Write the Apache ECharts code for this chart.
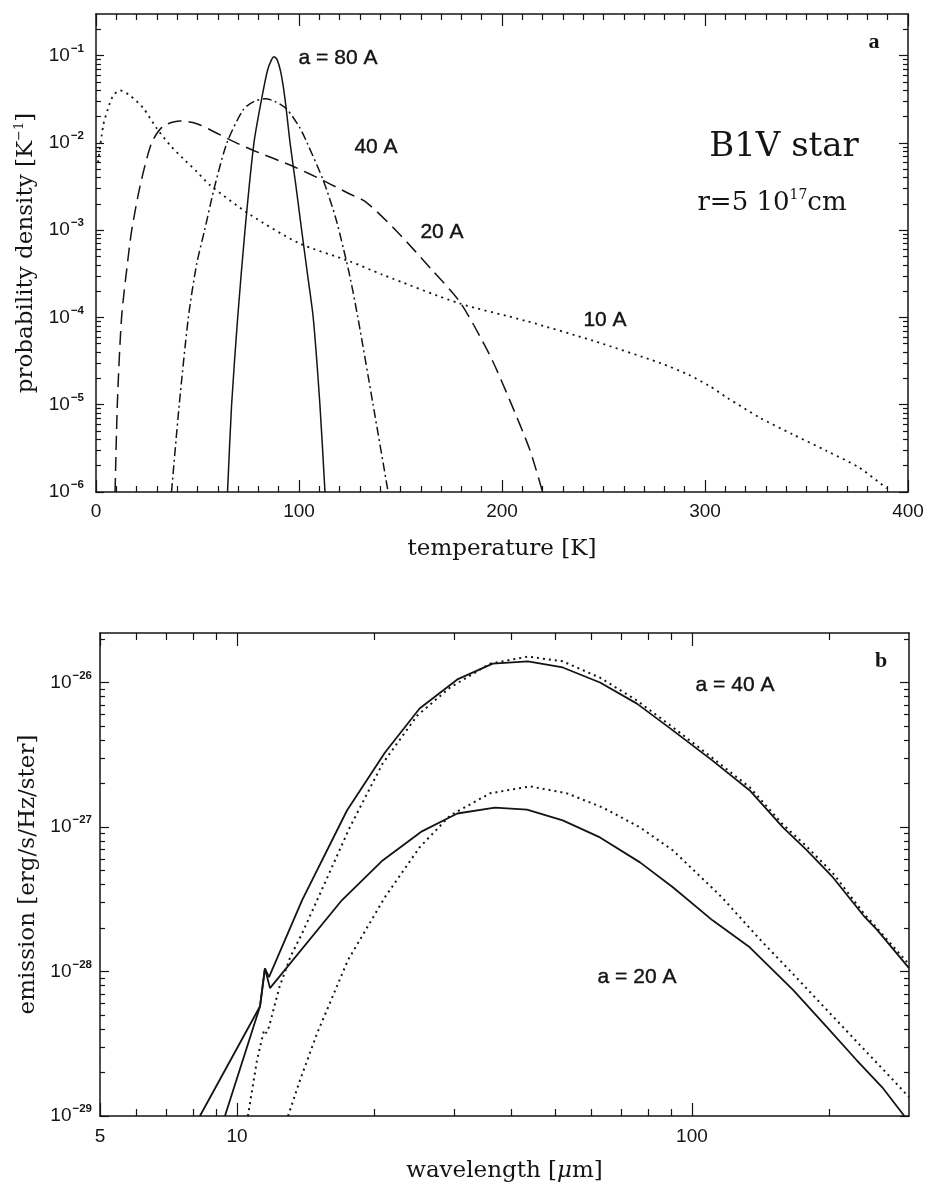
<!DOCTYPE html>
<html>
<head>
<meta charset="utf-8">
<script src="https://cdn.jsdelivr.net/npm/echarts@6/dist/echarts.min.js"></script>
<style>
  html, body { margin: 0; padding: 0; background: #fff; }
  #chart { width: 928px; height: 1187px; }
</style>
</head>
<body>
<div id="chart"></div>
<script>
// ---------- Panel a: temperature probability density [K^-1] vs T [K] ----------
const dist80 = [[64.8,1e-6],[66.8,1e-5],[69.8,1e-4],[73.4,1e-3],[77.8,1e-2],[81.6,3.2e-2],[84.5,6.8e-2],[86.5,9.0e-2],[87.7,9.7e-2],[89.2,9.0e-2],[91,6.5e-2],[93.1,3.2e-2],[95.6,1e-2],[98.5,3.2e-3],[101.3,1e-3],[104.3,3e-4],[107,1e-4],[110.3,1e-5],[112.8,1e-6]];
const dist40 = [[37.2,1e-6],[41,1e-5],[45.5,1e-4],[49.5,4e-4],[53.5,1e-3],[58.5,3.2e-3],[64.5,1e-2],[72.5,2.4e-2],[78,3.0e-2],[83.3,3.2e-2],[88,3.0e-2],[93.9,2.45e-2],[100.5,1.48e-2],[104,1e-2],[112,3.7e-3],[118,1.4e-3],[122,6e-4],[125,3e-4],[129,1e-4],[136.5,1e-5],[143.9,1e-6]];
const dist20 = [[9.4,1e-6],[10.5,1e-5],[12.6,1e-4],[15.8,4.8e-4],[17.6,1e-3],[21.7,3.2e-3],[27.4,1e-2],[33,1.55e-2],[41.4,1.78e-2],[50,1.65e-2],[67.6,1.04e-2],[77.5,8.2e-3],[97,5.4e-3],[112,3.7e-3],[125,2.6e-3],[133,2.1e-3],[148,9.8e-4],[166,3.4e-4],[179.3,1.5e-4],[194,3.7e-5],[204,1.1e-5],[213.8,3e-6],[220,1e-6]];
const dist10 = [[1,6e-3],[3.6,1.6e-2],[6,2.5e-2],[8.5,3.5e-2],[11.8,4.0e-2],[16.7,3.5e-2],[23.3,2.5e-2],[29.9,1.47e-2],[36.5,9.4e-3],[43,6.6e-3],[50,4.6e-3],[56,3.3e-3],[76,1.5e-3],[100,7.1e-4],[125,4.4e-4],[141,3.1e-4],[179,1.45e-4],[212,9.1e-5],[245,5.4e-5],[278,3.0e-5],[292,2.2e-5],[302,1.65e-5],[311,1.2e-5],[327,7.1e-6],[343,4.6e-6],[360,2.95e-6],[376,1.9e-6],[389.5,1.1e-6]];
const densityDecades = [1e-6, 1e-5, 1e-4, 1e-3, 1e-2, 1e-1];

// ---------- Panel b: emission [erg/s/Hz/ster] vs wavelength [um] ----------
const emit40Solid = [[9.41,1e-29],[11.24,5.75e-29],[11.52,1.05e-28],[11.76,9.14e-29],[13.9,3.11e-28],[17.45,1.30e-27],[21.15,3.28e-27],[25.2,6.61e-27],[30.5,1.05e-26],[36.5,1.35e-26],[43.6,1.40e-26],[52.0,1.27e-26],[62.8,1.0e-26],[75.7,7.14e-27],[90.8,4.66e-27],[111,2.88e-27],[134,1.79e-27],[158.5,9.93e-28],[179,6.89e-28],[204,4.49e-28],[238,2.45e-28],[255,1.95e-28],[300,1.055e-28]];
const emit40Dotted = [[10.57,1e-29],[11.07,2.44e-29],[11.47,3.93e-29],[11.6,3.75e-29],[11.75,4.1e-29],[12.4,7.8e-29],[13.1,1.26e-28],[13.9,1.83e-28],[15.0,3.11e-28],[17.7,9.93e-28],[20.9,2.75e-27],[24.9,5.9e-27],[29.4,9.23e-27],[36.0,1.35e-26],[43.6,1.51e-26],[52.0,1.4e-26],[62.8,1.08e-26],[75.7,7.5e-27],[90.8,4.9e-27],[111,3.0e-27],[134,1.88e-27],[158.5,1.04e-27],[179,7.3e-28],[204,4.8e-28],[238,2.55e-28],[300,1.12e-28]];
const emit20Solid = [[8.29,1e-29],[11.24,5.75e-29],[11.52,1.05e-28],[11.82,7.67e-29],[17.0,3.11e-28],[20.9,5.87e-28],[25.5,9.33e-28],[30.5,1.24e-27],[36.9,1.36e-27],[43.4,1.32e-27],[52.0,1.11e-27],[62.8,8.47e-28],[76.9,5.69e-28],[90.8,3.83e-28],[111,2.26e-28],[134,1.47e-28],[167,7.43e-29],[198,4.12e-29],[230,2.44e-29],[262,1.58e-29],[293,1e-29]];
const emit20Dotted = [[12.95,1e-29],[13.76,1.77e-29],[15.0,3.73e-29],[17.54,1.2e-28],[21.15,3.27e-28],[25.2,7.23e-28],[29.4,1.2e-27],[36.0,1.71e-27],[44.1,1.91e-27],[53.1,1.71e-27],[63.8,1.36e-27],[76.9,9.93e-28],[90.8,6.89e-28],[111,3.77e-28],[117,3.2e-28],[141,1.67e-28],[167,9.57e-29],[198,5.41e-29],[234,3.1e-29],[277,1.77e-29],[300,1.35e-29]];
const waveLabels = [5, 10, 100];
const emissionDecades = [1e-29, 1e-28, 1e-27, 1e-26];
const emissionTop = 2.2e-26;

// emission is plotted in units of 1e-29 so the log scale stays well inside float rounding
const emissionUnit = 1e-29;
const inUnit = v => Math.round(v / emissionUnit * 1e6) / 1e6;
const toUnit = rows => rows.map(r => [r[0], inUnit(r[1])]);

const ink = '#141414';
const serif = '"DejaVu Serif", serif';
const sans = '"Liberation Sans", Arial, sans-serif';

// 2..9 x 10^k strictly inside (lo, hi)
function minorLog(lo, hi) {
  const out = [];
  for (let e = Math.floor(Math.log10(lo)); e <= Math.ceil(Math.log10(hi)); e++) {
    for (let m = 2; m <= 9; m++) {
      const v = m * Math.pow(10, e);
      if (v > lo * 1.0001 && v < hi * 0.9999) out.push(v);
    }
  }
  return out;
}

function powerText(e) {
  return '{m|10}{e|' + (e < 0 ? '\u2212' : '') + Math.abs(e) + '}';
}
const densityLabel = v => powerText(Math.round(Math.log10(v)));
const emissionLabel = v => powerText(Math.round(Math.log10(v) + Math.log10(emissionUnit)));
const powerRich = {
  m: { fontSize: 19, fontFamily: sans, color: ink },
  e: { fontSize: 11.5, fontWeight: 'bold', fontFamily: sans, color: ink, padding: [0, 0, 14, 1] }
};

const lineOn = { show: true, onZero: false, lineStyle: { color: ink, width: 1.5 } };
const lineOff = { show: false, onZero: false };
const tickStyle = { color: ink, width: 1.2 };

// log axis that only draws ticks (and optionally the frame line / labels)
function logAxis(grid, pos, min, max, ticks, len, withLine, label, extra) {
  return Object.assign({
    gridIndex: grid, type: 'log', logBase: 10, position: pos, min: min, max: max,
    axisLine: withLine ? lineOn : lineOff,
    axisTick: { show: true, inside: true, length: len, customValues: ticks, lineStyle: tickStyle },
    minorTick: { show: false },
    axisLabel: label || { show: false },
    splitLine: { show: false }, minorSplitLine: { show: false }
  }, extra || {});
}
function tempAxis(pos, extra) {
  return Object.assign({
    gridIndex: 0, type: 'value', position: pos, min: 0, max: 400, interval: 100,
    axisLine: lineOn,
    axisTick: { show: true, inside: true, length: 12, lineStyle: tickStyle },
    minorTick: { show: true, splitNumber: 10, length: 6, lineStyle: tickStyle },
    axisLabel: { show: false },
    splitLine: { show: false }, minorSplitLine: { show: false }
  }, extra || {});
}

const densMinor = minorLog(1e-6, 0.3);
const emisMin = inUnit(emissionDecades[0]);
const emisMax = inUnit(emissionTop);
const emisMajor = emissionDecades.map(inUnit);
const emisMinor = minorLog(emisMin, emisMax);
const waveMinor = minorLog(5, 300);

// curve annotations
function note(x, y, text, extra) {
  return { type: 'text', x: x, y: y, silent: true,
    style: Object.assign({ text: text, fontFamily: sans, fontSize: 21, fill: ink, stroke: ink, lineWidth: 0.4,
      align: 'center', verticalAlign: 'middle' }, extra || {}) };
}

const option = {
  backgroundColor: '#fff',
  animation: false,
  grid: [
    { left: 96, top: 14, width: 812, height: 478 },
    { left: 100, top: 633, width: 809, height: 483 }
  ],
  xAxis: [
    tempAxis('bottom', {
      axisLabel: { show: true, margin: 10, fontSize: 19, fontFamily: sans, color: ink },
      name: 'temperature [K]', nameLocation: 'middle', nameGap: 46,
      nameTextStyle: { fontFamily: serif, fontSize: 23, color: ink }
    }),
    tempAxis('top'),
    logAxis(1, 'bottom', 5, 300, waveLabels, 13, true,
      { show: true, customValues: waveLabels, margin: 11, fontSize: 19, fontFamily: sans, color: ink },
      {
        name: '{t|wavelength [}{i|\u03bc}{t|m]}', nameLocation: 'middle', nameGap: 44,
        nameTextStyle: { rich: {
          t: { fontFamily: serif, fontSize: 23, color: ink },
          i: { fontFamily: serif, fontSize: 23, fontStyle: 'italic', color: ink }
        } }
      }),
    logAxis(1, 'bottom', 5, 300, waveMinor, 7, false),
    logAxis(1, 'top', 5, 300, waveLabels, 13, true),
    logAxis(1, 'top', 5, 300, waveMinor, 7, false)
  ],
  yAxis: [
    logAxis(0, 'left', 1e-6, 0.3, densityDecades, 8, true,
      { show: true, customValues: densityDecades, margin: 12, formatter: densityLabel, rich: powerRich },
      {
        name: '{t|probability density [K}{s|\u22121}{t|]}', nameLocation: 'middle', nameGap: 52, nameRotate: 90,
        nameTextStyle: { rich: {
          t: { fontFamily: serif, fontSize: 23, color: ink },
          s: { fontFamily: serif, fontSize: 13, color: ink, padding: [0, 0, 14, 0] }
        } }
      }),
    logAxis(0, 'left', 1e-6, 0.3, densMinor, 5, false),
    logAxis(0, 'right', 1e-6, 0.3, densityDecades, 9, true),
    logAxis(0, 'right', 1e-6, 0.3, densMinor, 5, false),
    logAxis(1, 'left', emisMin, emisMax, emisMajor, 9, true,
      { show: true, customValues: emisMajor, margin: 8, formatter: emissionLabel, rich: powerRich },
      {
        name: 'emission [erg/s/Hz/ster]', nameLocation: 'middle', nameGap: 58, nameRotate: 90,
        nameTextStyle: { fontFamily: serif, fontSize: 23, color: ink }
      }),
    logAxis(1, 'left', emisMin, emisMax, emisMinor, 5, false),
    logAxis(1, 'right', emisMin, emisMax, emisMajor, 9, true),
    logAxis(1, 'right', emisMin, emisMax, emisMinor, 5, false)
  ],
  series: [
    // panel a
    { name: 'a = 80 A', type: 'line', xAxisIndex: 0, yAxisIndex: 0, data: dist80, symbol: 'none', smooth: 0.25, silent: true,
      lineStyle: { color: ink, width: 1.5, type: 'solid' } },
    { name: '40 A', type: 'line', xAxisIndex: 0, yAxisIndex: 0, data: dist40, symbol: 'none', smooth: 0.25, silent: true,
      lineStyle: { color: ink, width: 1.5, type: [9, 3.5, 2, 3.5] } },
    { name: '20 A', type: 'line', xAxisIndex: 0, yAxisIndex: 0, data: dist20, symbol: 'none', smooth: 0.25, silent: true,
      lineStyle: { color: ink, width: 1.5, type: [14, 7] } },
    { name: '10 A', type: 'line', xAxisIndex: 0, yAxisIndex: 0, data: dist10, symbol: 'none', smooth: 0.25, silent: true,
      lineStyle: { color: ink, width: 1.8, type: [2, 4.5] } },
    // panel b
    { name: '40 A solid', type: 'line', xAxisIndex: 2, yAxisIndex: 4, data: toUnit(emit40Solid), symbol: 'none', silent: true,
      lineStyle: { color: ink, width: 1.8, type: 'solid' } },
    { name: '40 A dotted', type: 'line', xAxisIndex: 2, yAxisIndex: 4, data: toUnit(emit40Dotted), symbol: 'none', silent: true,
      lineStyle: { color: ink, width: 2, type: [2, 4] } },
    { name: '20 A solid', type: 'line', xAxisIndex: 2, yAxisIndex: 4, data: toUnit(emit20Solid), symbol: 'none', silent: true,
      lineStyle: { color: ink, width: 1.8, type: 'solid' } },
    { name: '20 A dotted', type: 'line', xAxisIndex: 2, yAxisIndex: 4, data: toUnit(emit20Dotted), symbol: 'none', silent: true,
      lineStyle: { color: ink, width: 2, type: [2, 4] } }
  ],
  graphic: [
    note(338, 58, 'a = 80 A'),
    note(376, 147, '40 A'),
    note(442, 232, '20 A'),
    note(605, 320, '10 A'),
    { type: 'text', x: 784, y: 147, silent: true, style: { text: 'B1V star', fontFamily: serif, fontSize: 34, fill: ink, align: 'center', verticalAlign: 'middle' } },
    { type: 'text', x: 772, y: 203, silent: true, style: {
        text: '{t|r=5 10}{s|17}{t|cm}', align: 'center', verticalAlign: 'middle',
        rich: {
          t: { fontFamily: serif, fontSize: 26, fill: ink, color: ink },
          s: { fontFamily: serif, fontSize: 14, fill: ink, color: ink, padding: [0, 0, 16, 0] }
        } } },
    { type: 'text', x: 874, y: 42, silent: true, style: { text: 'a', fontFamily: '"Liberation Serif", serif', fontWeight: 'bold', fontSize: 22, fill: ink, align: 'center', verticalAlign: 'middle' } },
    { type: 'text', x: 881, y: 661, silent: true, style: { text: 'b', fontFamily: '"Liberation Serif", serif', fontWeight: 'bold', fontSize: 22, fill: ink, align: 'center', verticalAlign: 'middle' } },
    note(735, 685, 'a = 40 A'),
    note(637, 977, 'a = 20 A')
  ]
};

const chart = echarts.init(document.getElementById('chart'), null, { renderer: 'canvas' });
chart.setOption(option);
</script>
</body>
</html>
